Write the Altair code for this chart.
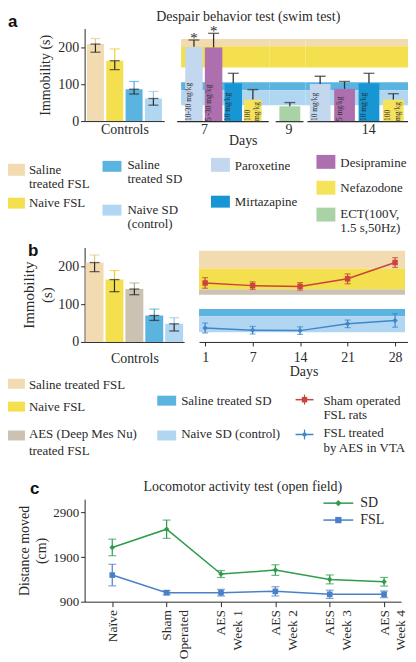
import altair as alt
import pandas as pd

SERIF = "Liberation Serif"
SANS = "Liberation Sans"
INK = "#2a2a2a"

# ================= DATA =================
# panel a – controls (immobility, s)
ctrl_a_names = ["Saline treated FSL", "Naive FSL", "Saline treated SD", "Naive SD (control)"]
ctrl_a_mean = [208, 163, 86, 61]
ctrl_a_low = [186, 139, 73, 43]
ctrl_a_high = [223, 195, 107, 80]

# panel a – control ranges drawn as background bands
band_a_names = ["Saline treated FSL", "Naive FSL", "Saline treated SD", "Naive SD (control)"]
band_a_low = [202, 145, 83, 43]
band_a_high = [222, 202, 105, 83]

# panel a – treatments
treat_day = ["7", "7", "7", "7", "9", "14", "14", "14", "14"]
treat_name = ["Paroxetine", "Desipramine", "Mirtazapine", "Nefazodone", "ECT",
              "Paroxetine", "Desipramine", "Mirtazapine", "Nefazodone"]
treat_dose = ["10-30 mg/kg", "5 -30 mg/kg", "10  mg/kg", "100\nmg/kg", "",
              "10 mg/kg", "5 mg/kg", "10 mg/kg", "100\nmg/kg"]
treat_mean = [201, 199, 102, 58, 40, 100, 87, 102, 58]
treat_high = [219, 237, 129, 85, 50, 121, 107, 129, 74]
treat_sig = ["*", "*", "", "", "", "", "", "", ""]

# panel b – controls
ctrl_b_names = ["Saline treated FSL", "Naive FSL", "AES treated FSL", "Saline treated SD", "Naive SD (control)"]
ctrl_b_mean = [210, 165, 140, 70, 48]
ctrl_b_low = [186, 133, 125, 57, 29]
ctrl_b_high = [230, 189, 156, 87, 64]
band_b_low = [194, 139, 125, 68, 26]
band_b_high = [241, 194, 139, 87, 68]

# panel b – time course
days_b = ["1", "7", "14", "21", "28"]
sham_mean = [156, 149, 147, 167, 210]
sham_err = [14, 10, 10, 13, 13]
aes_mean = [37, 31, 30, 48, 57]
aes_err = [13, 10, 10, 10, 18]

# panel c – locomotor activity
c_cats = ["Naïve", "Sham|Operated", "AES|Week 1", "AES|Week 2", "AES|Week 3", "AES|Week 4"]
sd_mean = [2117, 2526, 1520, 1609, 1400, 1347]
sd_err = [186, 205, 78, 119, 100, 97]
fsl_mean = [1497, 1102, 1102, 1132, 1065, 1065]
fsl_err = [242, 48, 75, 104, 93, 75]

# ================= STYLE =================
name_domain = ["Saline treated FSL", "Naive FSL", "AES treated FSL", "Saline treated SD",
               "Naive SD (control)", "Paroxetine", "Mirtazapine", "Desipramine", "Nefazodone", "ECT"]
name_range = ["#f2dbb1", "#f4df4e", "#cbc2b2", "#5bb3df", "#b0d6f1",
              "#c3d7ee", "#1896d4", "#ad6fad", "#f6e35c", "#a9d3a6"]
err_range = ["#e6c58a", "#e8cf36", "#b3a994", "#4aa5d6", "#93c4e8",
             "#333333", "#333333", "#333333", "#333333", "#333333"]
COLOR = alt.Scale(domain=name_domain, range=name_range)
ERRC = dict(zip(name_domain, err_range))
Y_SCALE = alt.Scale(domain=[0, 250], nice=False)
SER_B = alt.Scale(domain=["sham", "aes"], range=["#c9443b", "#3f86c9"])
SHP_B = alt.Scale(domain=["sham", "aes"], range=["square", "diamond"])
SER_C = alt.Scale(domain=["SD", "FSL"], range=["#2f9c4c", "#4a80c8"])
SHP_C = alt.Scale(domain=["SD", "FSL"], range=["diamond", "square"])

OX = 85          # page x of the plot origins (layout)
LA_TOP, LA_H = 146, 95
LB_TOP, LB_H = 377, 100
H_A, H_B, H_C = 93, 95, 103


def letter(t, x, y):
    return alt.Chart(pd.DataFrame({"t": [t]})).mark_text(
        font=SANS, fontWeight="bold", fontSize=17, align="left", baseline="middle", color="#111"
    ).encode(text="t:N", x=alt.value(x), y=alt.value(y))


def imm_axis(title, tsize, tlh, tpad):
    return alt.Axis(title=title, values=[0, 50, 100, 150, 200],
                    labelExpr="datum.value % 100 === 0 ? datum.label : ''",
                    labelFontSize=14, labelPadding=2, tickSize=4,
                    titleFontSize=tsize, titleLineHeight=tlh, titlePadding=tpad)


def controls_chart(names, mean, low, high, width, height, ytitle, tsize, tlh, tpad, pin, pout, ctpad):
    df = pd.DataFrame({"name": names, "mean": mean, "low": low, "high": high})
    df["errc"] = [ERRC[n] for n in names]
    x = alt.X("name:N", sort=names, scale=alt.Scale(paddingInner=pin, paddingOuter=pout),
              axis=alt.Axis(title="Controls", labels=False, ticks=False, titlePadding=ctpad, titleFontSize=14))
    base = alt.Chart(df).encode(x=x)
    bars = base.mark_bar().encode(
        y=alt.Y("mean:Q", scale=Y_SCALE, axis=imm_axis(ytitle, tsize, tlh, tpad)),
        color=alt.Color("name:N", scale=COLOR, legend=None))
    up = base.mark_rule(strokeWidth=1.2).encode(y="mean:Q", y2="high:Q", stroke=alt.Stroke("errc:N", scale=None))
    upcap = base.mark_tick(thickness=1.2, size=10).encode(y="high:Q", fill=alt.Fill("errc:N", scale=None))
    dn = base.mark_rule(color=INK, strokeWidth=1.2).encode(y="low:Q", y2="mean:Q")
    dncap = base.mark_tick(color=INK, thickness=1.3, size=10).encode(y="low:Q")
    midcap = base.mark_tick(color=INK, thickness=1.3, size=10).encode(y="mean:Q")
    return [bars, up, upcap, dn, dncap, midcap], width, height


# ---------------- panel a ----------------
layers, w, h = controls_chart(ctrl_a_names, ctrl_a_mean, ctrl_a_low, ctrl_a_high, 80, H_A,
                              "Immobility (s)", 14, 16, 5, 0.12, 0.12, 1)
ctrl_a = alt.layer(*layers, letter("a", -77, -7)).properties(width=w, height=h)

band_a_df = pd.DataFrame({"name": band_a_names, "low": band_a_low, "high": band_a_high})
treat_df = pd.DataFrame({"day": treat_day, "name": treat_name, "dose": treat_dose,
                         "mean": treat_mean, "high": treat_high, "sig": treat_sig})
# one-pixel thick baseline segment, expressed in y-units (layout only)
base_seg = pd.DataFrame({"y0": [0.0], "y1": [-1.2 * 250 / H_A]})


def day_chart(day, width, pin, pout, align, bx0, tx, ax0, ax1):
    d = treat_df[treat_df["day"] == day]
    order = list(d["name"])
    bands = alt.Chart(band_a_df).mark_rect().encode(
        x=alt.value(bx0), x2=alt.value(width),
        y=alt.Y("low:Q", scale=Y_SCALE, axis=None), y2="high:Q",
        color=alt.Color("name:N", scale=COLOR, legend=None))
    segment = alt.Chart(base_seg).mark_rect(color=INK).encode(
        x=alt.value(ax0), x2=alt.value(ax1),
        y=alt.Y("y0:Q", scale=Y_SCALE, axis=None), y2="y1:Q")
    xenc = alt.X("name:N", sort=order,
                 scale=alt.Scale(paddingInner=pin, paddingOuter=pout, align=align),
                 axis=alt.Axis(title=day, labels=False, ticks=False, domain=False, titlePadding=1,
                               titleFontSize=14, titleX=tx, titleAlign="center"))
    base = alt.Chart(d).encode(x=xenc)
    bars = base.mark_bar().encode(y=alt.Y("mean:Q", scale=Y_SCALE, axis=None),
                                  color=alt.Color("name:N", scale=COLOR, legend=None))
    err = base.mark_rule(color="#333", strokeWidth=1.3).encode(y="mean:Q", y2="high:Q")
    cap = base.mark_tick(color="#333", size=11, thickness=1.4).encode(y="high:Q")
    star = base.mark_text(font=SERIF, fontSize=15, dy=3, baseline="alphabetic", color=INK).encode(
        y="high:Q", text="sig:N")
    dose = base.mark_text(angle=270, align="left", baseline="middle", font=SERIF, fontSize=7.5,
                          lineBreak="\n", dy=-5, color=INK).encode(y=alt.datum(0), text="dose:N")
    return alt.layer(bands, segment, bars, err, cap, star, dose).properties(width=width, height=H_A)


d7 = day_chart("7", 93, 0.11, 0.41, 0.5, 4, 27, 0, 92)
d9 = day_chart("9", 36, 0.1, 0.32, 0.65, 0, 19, 6, 34)
d14 = day_chart("14", 103, 0.15, 0.175, 0.5, 0, 63, 2, 103)
treat_a = alt.hconcat(d7, d9, d14, spacing=0).properties(
    title=alt.Title("Days", orient="bottom", anchor="start", frame="group", dx=52, offset=-2,
                    font=SERIF, fontSize=14, fontWeight="normal", color=INK))

row_a = alt.hconcat(ctrl_a, treat_a, spacing=13).properties(
    title=alt.Title("Despair behavior test (swim test)", anchor="start", frame="group", dx=72,
                    offset=0, dy=11, font=SERIF, fontSize=14, fontWeight="normal", color=INK))


# ---------------- legends (layout tables in page pixels) ----------------
def legend_chart(sw, tx, top, height, extra=None):
    swdf = pd.DataFrame(sw, columns=["name", "x1", "x2", "y1", "y2"])
    swdf[["x1", "x2"]] -= OX
    swdf[["y1", "y2"]] -= top
    txdf = pd.DataFrame(tx, columns=["t", "x", "y"])
    txdf["x"] -= OX
    txdf["y"] -= top
    rects = alt.Chart(swdf).mark_rect().encode(
        x=alt.X("x1:Q", scale=None, axis=None), x2="x2:Q",
        y=alt.Y("y1:Q", scale=None, axis=None), y2="y2:Q",
        color=alt.Color("name:N", scale=COLOR, legend=None))
    texts = alt.Chart(txdf).mark_text(align="left", baseline="middle", font=SERIF, fontSize=13,
                                      color=INK).encode(
        x=alt.X("x:Q", scale=None, axis=None), y=alt.Y("y:Q", scale=None, axis=None), text="t:N")
    lay = [rects, texts] + (extra or [])
    return alt.layer(*lay).resolve_scale(color="independent").properties(width=325, height=height)


sw_a = [("Saline treated FSL", 8, 25, 162, 174), ("Naive FSL", 8, 25, 196, 207),
        ("Saline treated SD", 103, 122, 159, 170), ("Naive SD (control)", 103, 122, 203, 214),
        ("Paroxetine", 212, 231, 156, 170), ("Mirtazapine", 212, 231, 194, 206),
        ("Desipramine", 318, 337, 153, 167), ("Nefazodone", 318, 337, 179, 193),
        ("ECT", 318, 337, 206, 220)]
tx_a = [("Saline", 29, 168), ("treated  FSL", 29, 182), ("Naive FSL", 29, 201),
        ("Saline", 128, 163), ("treated SD", 128, 177), ("Naive SD", 128, 208), ("(control)", 128, 222),
        ("Paroxetine", 236, 164), ("Mirtazapine", 236, 200),
        ("Desipramine", 342, 161), ("Nefazodone", 342, 186), ("ECT(100V,", 342, 212),
        ("1.5 s,50Hz)", 342, 226)]
leg_a = legend_chart(sw_a, tx_a, LA_TOP, LA_H)

sw_b = [("Saline treated FSL", 8, 25, 375, 385), ("Naive FSL", 8, 25, 398, 408),
        ("AES treated FSL", 8, 25, 427, 437),
        ("Saline treated SD", 158, 177, 392, 402), ("Naive SD (control)", 158, 177, 427, 437)]
tx_b = [("Saline treated FSL", 29, 381), ("Naive FSL", 29, 403), ("AES  (Deep Mes Nu)", 29, 431),
        ("treated FSL", 29, 448), ("Saline treated SD", 182, 397), ("Naive SD (control)", 182, 431),
        ("Sham operated", 325, 397), ("FSL rats", 325, 411), ("FSL treated", 325, 430),
        ("by AES in VTA", 325, 445)]
lb = pd.DataFrame({"series": ["sham", "aes"], "x1": [297, 297], "x2": [315, 315], "y": [396, 431]})
lb["px"] = (lb["x1"] + lb["x2"]) / 2 - OX
lb[["x1", "x2"]] -= OX
lb["y"] -= LB_TOP
lb["ylo"] = lb["y"] - 5
lb["yhi"] = lb["y"] + 5
lbb = alt.Chart(lb)
lb_line = lbb.mark_rule(strokeWidth=1.5).encode(
    x=alt.X("x1:Q", scale=None, axis=None), x2="x2:Q", y=alt.Y("y:Q", scale=None, axis=None),
    color=alt.Color("series:N", scale=SER_B, legend=None))
lb_err = lbb.mark_rule(strokeWidth=1.2).encode(
    x=alt.X("px:Q", scale=None, axis=None), y=alt.Y("ylo:Q", scale=None, axis=None), y2="yhi:Q",
    color=alt.Color("series:N", scale=SER_B, legend=None))
lb_pt = lbb.mark_point(filled=True, size=30, opacity=1).encode(
    x=alt.X("px:Q", scale=None, axis=None), y=alt.Y("y:Q", scale=None, axis=None),
    color=alt.Color("series:N", scale=SER_B, legend=None),
    shape=alt.Shape("series:N", scale=SHP_B, legend=None))
leg_b = legend_chart(sw_b, tx_b, LB_TOP, LB_H, [lb_line, lb_err, lb_pt])

# ---------------- panel b ----------------
layers, w, h = controls_chart(ctrl_b_names, ctrl_b_mean, ctrl_b_low, ctrl_b_high, 100, H_B,
                              ["Immobility", "(s)"], 15, 18, 3, 0.1, 0.05, 10)
ctrl_b = alt.layer(*layers, letter("b", -57, 4)).properties(width=w, height=h)

band_b_df = pd.DataFrame({"name": ctrl_b_names, "low": band_b_low, "high": band_b_high})
line_df = pd.DataFrame({"day": days_b * 2, "series": ["sham"] * 5 + ["aes"] * 5,
                        "mean": sham_mean + aes_mean, "err": sham_err + aes_err})
line_df["lo"] = line_df["mean"] - line_df["err"]
line_df["hi"] = line_df["mean"] + line_df["err"]
W_LB = 210
xb = alt.X("day:O", sort=days_b, scale=alt.Scale(type="point", padding=0.2, align=0.32),
           axis=alt.Axis(title="Days", labelAngle=0, labelFontSize=14, titleFontSize=14,
                         tickSize=4, labelPadding=5, titlePadding=0))
bands_b = alt.Chart(band_b_df).mark_rect().encode(
    x=alt.value(0), x2=alt.value(W_LB - 3),
    y=alt.Y("low:Q", scale=Y_SCALE, axis=None), y2="high:Q",
    color=alt.Color("name:N", scale=COLOR, legend=None))
lbase = alt.Chart(line_df).encode(x=xb, color=alt.Color("series:N", scale=SER_B, legend=None))
l_line = lbase.mark_line(strokeWidth=1.5).encode(y=alt.Y("mean:Q", scale=Y_SCALE, axis=None))
l_err = lbase.mark_rule(strokeWidth=1.2).encode(y="lo:Q", y2="hi:Q")
l_lo = lbase.mark_tick(size=6, thickness=1.2).encode(y="lo:Q")
l_hi = lbase.mark_tick(size=6, thickness=1.2).encode(y="hi:Q")
l_pt = lbase.mark_point(filled=True, size=30, opacity=1).encode(
    y="mean:Q", shape=alt.Shape("series:N", scale=SHP_B, legend=None))
line_b = alt.layer(bands_b, l_line, l_err, l_lo, l_hi, l_pt).resolve_scale(
    color="independent").properties(width=W_LB, height=H_B)

row_b = alt.hconcat(ctrl_b, line_b, spacing=15).resolve_scale(color="independent", shape="independent")

# ---------------- panel c ----------------
c_df = pd.DataFrame({"cat": c_cats * 2, "series": ["SD"] * 6 + ["FSL"] * 6,
                     "mean": sd_mean + fsl_mean, "err": sd_err + fsl_err})
c_df["lo"] = c_df["mean"] - c_df["err"]
c_df["hi"] = c_df["mean"] + c_df["err"]
xc = alt.X("cat:N", sort=c_cats, scale=alt.Scale(type="point", padding=0.41, align=0.62),
           axis=alt.Axis(title=None, labelAngle=270, labelAlign="right", labelBaseline="middle",
                         labelExpr="split(datum.label, '|')", labelFontSize=13.5, labelLineHeight=17,
                         labelPadding=3, tickSize=5))
yc = alt.Y("mean:Q", scale=alt.Scale(domain=[900, 3200], nice=False, zero=False),
           axis=alt.Axis(values=[900, 1400, 1900, 2400, 2900], format="d",
                         labelExpr="(datum.value - 900) % 1000 === 0 ? datum.label : ''",
                         title=["Distance moved", "(cm)"], titleFontSize=14, titleLineHeight=17,
                         titlePadding=4, labelFontSize=13, tickSize=4, labelPadding=2))
cbase = alt.Chart(c_df).encode(x=xc, color=alt.Color("series:N", scale=SER_C, legend=None))
c_line = cbase.mark_line(strokeWidth=1.5).encode(y=yc)
c_err = cbase.mark_rule(strokeWidth=1.2).encode(y="lo:Q", y2="hi:Q")
c_lo = cbase.mark_tick(size=8, thickness=1.2).encode(y="lo:Q")
c_hi = cbase.mark_tick(size=8, thickness=1.2).encode(y="hi:Q")
c_pt = cbase.mark_point(filled=True, size=32, opacity=1).encode(
    y="mean:Q", shape=alt.Shape("series:N", scale=SHP_C, legend=None))

legc = pd.DataFrame({"series": ["SD", "FSL"], "x1": [240, 240], "x2": [270, 270],
                     "px": [255, 255], "tx": [277, 277], "y": [4, 21]})
lcb = alt.Chart(legc)
lc_line = lcb.mark_rule(strokeWidth=1.5).encode(
    x=alt.X("x1:Q", scale=None, axis=None), x2="x2:Q", y=alt.Y("y:Q", scale=None, axis=None),
    color=alt.Color("series:N", scale=SER_C, legend=None))
lc_pt = lcb.mark_point(filled=True, size=40, opacity=1).encode(
    x=alt.X("px:Q", scale=None, axis=None), y=alt.Y("y:Q", scale=None, axis=None),
    color=alt.Color("series:N", scale=SER_C, legend=None),
    shape=alt.Shape("series:N", scale=SHP_C, legend=None))
lc_tx = lcb.mark_text(align="left", baseline="middle", font=SERIF, fontSize=14, color=INK).encode(
    x=alt.X("tx:Q", scale=None, axis=None), y=alt.Y("y:Q", scale=None, axis=None), text="series:N")

row_c = alt.layer(c_line, c_err, c_lo, c_hi, c_pt, lc_line, lc_pt, lc_tx, letter("c", -55, -10)).properties(
    width=318, height=H_C,
    title=alt.Title("Locomotor activity test (open field)", anchor="middle", frame="group",
                    offset=0, dy=14, font=SERIF, fontSize=14, fontWeight="normal", color=INK))

chart = alt.vconcat(row_a, leg_a, row_b, leg_b, row_c, spacing=0).resolve_scale(
    color="independent", shape="independent"
).properties(padding=0).configure_view(
    stroke=None
).configure_axis(
    domainColor=INK, tickColor=INK, labelColor=INK, titleColor=INK, labelFont=SERIF,
    titleFont=SERIF, titleFontWeight="normal", grid=False
)

chart.save("out.html", embed_options={"renderer": "svg", "actions": False})
